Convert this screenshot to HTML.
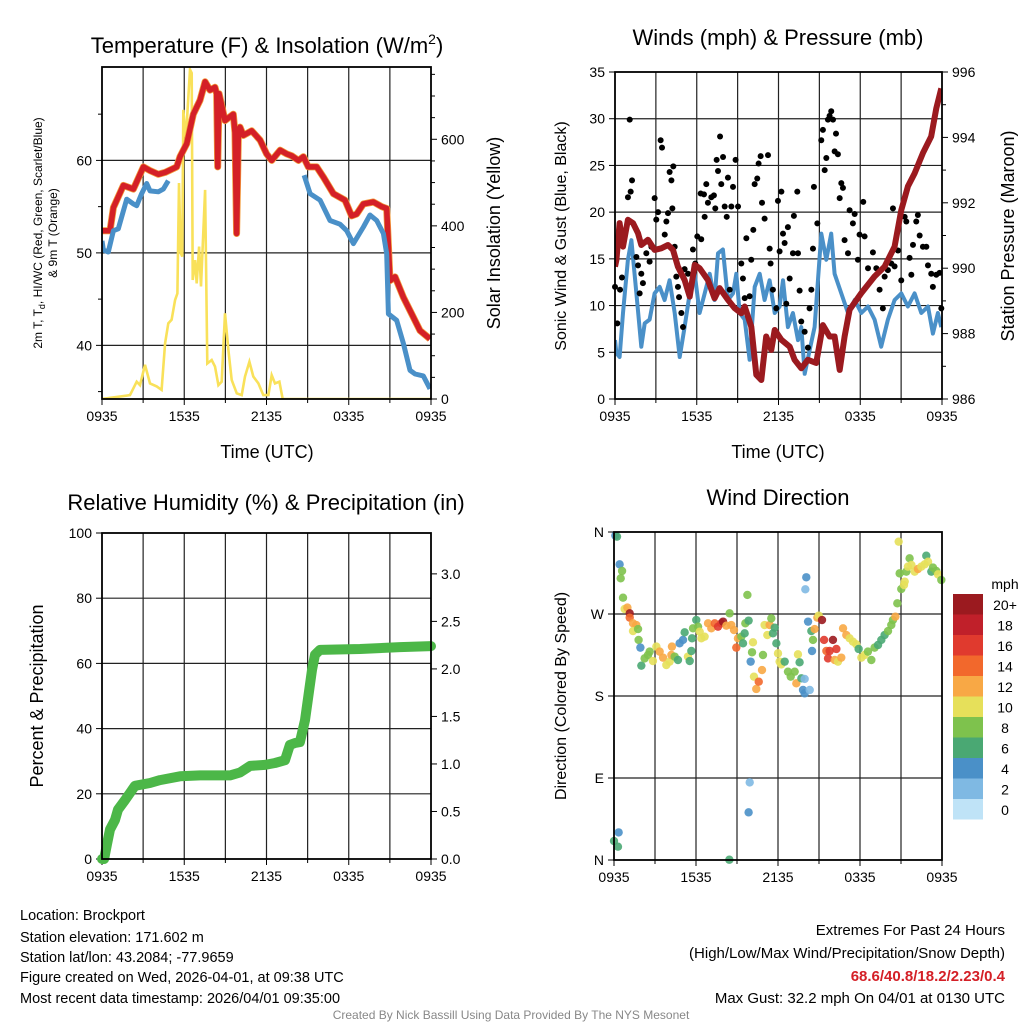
<!DOCTYPE html>
<html><head><meta charset="utf-8"><style>
html,body{margin:0;padding:0;background:#fff;}
svg{display:block;font-family:"Liberation Sans",Arial,sans-serif;}
</style></head><body>
<svg id="chart" width="1024" height="1024" viewBox="0 0 1024 1024" xmlns="http://www.w3.org/2000/svg">
<rect width="1024" height="1024" fill="#fff"/>
<g id="p1"></g>
<g id="p2"></g>
<g id="p3"></g>
<g id="p4"></g>
<g font-size="14.5" fill="#000">
<text x="20" y="920">Location: Brockport</text>
<text x="20" y="942">Station elevation: 171.602 m</text>
<text x="20" y="962">Station lat/lon: 43.2084; -77.9659</text>
<text x="20" y="982">Figure created on Wed, 2026-04-01, at 09:38 UTC</text>
<text x="20" y="1003">Most recent data timestamp: 2026/04/01 09:35:00</text>
</g>
<g font-size="15" text-anchor="end">
<text x="1005" y="935">Extremes For Past 24 Hours</text>
<text x="1005" y="958">(High/Low/Max Wind/Precipitation/Snow Depth)</text>
<text x="1005" y="981" fill="#d42027" font-weight="bold">68.6/40.8/18.2/2.23/0.4</text>
<text x="1005" y="1003">Max Gust: 32.2 mph On 04/01 at 0130 UTC</text>
</g>
<text x="511" y="1019" font-size="12" fill="#888" text-anchor="middle">Created By Nick Bassill Using Data Provided By The NYS Mesonet</text>
</svg>
<script>
// ---- Data ----
const tempHours=[0,0.58,0.83,1.56,2.29,3.02,3.5,4.11,4.6,5.45,5.69,6.18,6.66,7.15,7.52,7.88,8.24,8.37,8.44,8.54,8.97,9.58,9.7,9.82,9.95,10.07,10.31,10.92,11.53,12.01,12.38,12.99,13.47,13.84,14.33,14.69,15.05,15.66,16.15,16.88,17.73,18.21,18.58,19.07,19.8,20.4,20.77,21.01,21.38,21.99,22.59,23.2,23.93];
const tempValues=[52.4,52.4,54.9,57.3,56.9,59.3,58.9,58.5,58.7,59.3,60.4,61.8,65.0,66.5,68.5,67.6,67.9,67.2,59.3,67.2,64.3,65.0,63,52.1,63,63.6,62.7,63.2,62.2,60.7,60.0,61.1,60.7,60.5,60.0,60.4,59.3,59.3,58.2,56.4,55.7,54.0,54.2,55.3,55.5,55.0,54.8,47.0,47.4,45.2,43.4,41.6,40.7];
const wcHours=[0,0.1,0.46,0.83,1.19,1.8,2.29,2.53,2.89,3.26,3.5,4.11,4.47,4.84,9,14.74,15.18,15.91,16.63,17.36,17.85,18.34,19.07,19.55,20.04,20.53,20.77,20.89,21.5,21.99,22.47,22.84,23.44,23.93];
const wcValues=[51.3,50.3,50.1,52.4,52.6,55.8,55.3,55.1,56.4,57.5,56.7,56.6,56.9,57.8,null,58.4,56.4,55.7,53.5,53.1,52.4,51.0,52.8,54.1,53.5,52.1,49.9,43.4,42.7,40.2,37.3,36.9,36.7,35.3];
const solarHours=[0,2.04,2.53,2.77,3.14,3.5,3.99,4.35,4.6,4.84,5.08,5.33,5.5,5.62,5.74,5.86,5.93,6.13,6.23,6.42,6.54,6.62,6.79,6.91,7.08,7.22,7.52,7.68,8.0,8.24,8.49,8.73,8.97,9.22,9.46,9.83,10.19,10.43,10.75,11.04,11.41,11.77,12.14,12.38,12.62,12.94,13.18,24];
const solarValues=[0,9,40,32,79,36,29,21,129,175,183,229,244,499,337,329,668,599,661,761,753,275,321,267,352,260,483,82,90,75,32,40,198,113,44,13,9,52,86,52,36,9,9,55,36,40,0,0];
const pressHours=[0,0.1,0.34,0.59,0.95,1.32,1.69,1.93,2.42,2.91,3.4,3.89,4.26,4.62,5.11,5.48,5.85,6.21,6.82,7.31,7.68,8.29,8.78,9.27,9.52,10.0,10.37,10.74,11.1,11.47,11.72,12.21,12.82,13.18,13.67,14.16,14.77,15.26,15.75,16.12,16.49,16.85,17.22,18.08,19.05,19.79,20.52,21.01,21.5,21.99,22.6,23.21,23.58,23.95];
const pressValues=[990.05,990.25,991.38,990.66,991.48,991.38,991.07,990.71,990.87,990.56,990.61,990.71,990.56,990.05,989.64,989.13,990.1,990.0,989.64,989.08,989.39,989.03,988.78,988.62,988.83,988.21,986.74,986.58,987.91,987.5,988.11,987.81,987.6,987.2,986.94,987.2,987.1,988.26,987.91,987.91,986.89,987.91,988.73,989.24,989.75,990.05,990.66,991.78,992.5,992.9,993.52,994.03,994.89,995.5];
const windHours=[0,0.1,0.34,0.59,0.95,1.2,1.57,1.93,2.18,2.54,2.91,3.28,3.64,4.01,4.38,4.75,5.11,5.48,5.85,6.21,6.58,6.95,7.31,7.56,7.92,8.29,8.66,8.9,9.15,9.52,9.88,10.25,10.62,10.98,11.35,11.72,12.08,12.33,12.69,13.06,13.43,13.67,13.92,14.28,14.65,15.14,15.51,15.87,16.12,16.61,17.1,17.59,18.08,18.57,19.05,19.54,20.03,20.52,21.01,21.5,21.99,22.48,22.97,23.33,23.7,23.95];
const windValues=[6.3,4.9,4.5,9.2,14.9,17.0,11.3,5.6,8.1,8.5,11.3,12.0,10.6,12.7,9.2,4.5,7.7,11.3,13.4,9.2,11.3,13.4,10.6,15.6,16.0,10.6,11.3,13.4,9.2,8.5,4.2,12.0,13.4,10.6,12.7,9.2,9.9,12.7,7.7,9.2,6.3,7.7,2.7,5.2,7.7,17.7,14.9,17.7,13.4,11.3,9.2,10.6,9.2,9.9,8.5,5.6,8.5,10.6,11.3,9.9,11.3,9.2,9.9,7.0,9.2,7.7];
const gustHours=[0.0,0.17,0.37,0.51,0.95,1.15,1.25,1.08,1.57,1.69,1.81,1.93,2.05,2.3,2.54,2.67,2.91,3.03,3.16,3.35,3.45,3.65,3.77,3.89,4.01,4.14,4.21,4.28,4.38,4.5,4.62,4.7,4.87,4.99,5.11,5.36,5.72,5.89,6.04,6.33,6.58,6.29,6.53,6.7,6.82,7.07,7.26,7.36,7.46,7.56,7.71,7.8,7.93,8.05,8.2,8.29,8.42,8.54,8.66,8.85,9.03,9.27,9.39,9.52,9.64,9.88,10.0,10.15,10.25,10.44,10.54,10.69,10.79,10.98,11.23,11.35,11.42,11.59,11.84,11.96,12.08,12.21,12.33,12.45,12.57,12.69,12.82,13.06,13.13,13.38,13.43,13.55,13.67,13.92,14.16,14.28,14.41,14.53,14.6,14.85,15.14,15.26,15.39,15.51,15.63,15.75,15.87,16.0,16.12,16.22,16.36,16.49,16.61,16.73,16.85,17.1,17.22,17.46,17.59,17.83,17.95,18.22,18.32,18.57,18.93,19.18,19.42,19.66,19.79,20.03,20.28,20.4,20.52,20.77,21.01,21.26,21.38,21.62,21.75,21.87,22.11,22.23,22.36,22.6,22.85,22.97,23.21,23.33,23.58,23.82,23.95];
const gustValues=[12.0,8.1,11.7,13.0,21.6,22.2,23.4,29.9,15.2,14.3,11.3,13.4,12.4,15.6,14.7,16.3,21.5,19.2,20.0,27.7,26.9,17.6,19.0,19.9,24.3,23.4,20.4,24.9,16.3,13.1,12.0,10.9,9.2,7.7,13.9,13.4,16.0,14.5,17.4,17.1,19.5,22.0,21.9,23.0,21.0,21.6,21.8,20.4,25.6,24.4,28.1,23.0,25.9,20.6,19.5,23.7,11.7,20.6,22.7,25.6,20.6,14.5,12.9,10.8,17.2,11.0,14.9,18.1,23.0,23.6,25.2,26.0,21.0,19.3,26.1,16.1,14.5,11.7,9.7,21.2,15.8,22.2,17.7,16.7,10.2,18.4,12.9,15.6,19.6,22.2,15.6,11.6,8.3,7.2,5.5,9.7,11.7,16.1,22.7,18.8,27.7,28.8,24.5,25.8,29.9,30.3,30.8,29.9,26.5,28.4,26.2,21.5,23.1,22.6,17.0,15.6,20.2,18.8,19.8,14.9,17.6,21.1,17.4,14.0,15.7,14.0,11.7,9.7,13.1,13.8,14.5,20.4,14.2,15.9,12.7,19.5,19.0,15.1,13.3,16.5,19.0,19.7,17.5,16.3,16.3,14.3,13.4,12.0,13.3,13.5,9.7];
const precipHours=[0,0.15,0.36,0.58,0.95,1.17,1.68,2.41,3.5,4.23,5.69,7.15,9.34,10.07,10.8,11.89,12.62,13.35,13.71,14.08,14.44,14.81,15.32,15.54,15.9,18.82,21.74,24];
const precipValues=[0,0,0.15,0.31,0.41,0.52,0.62,0.77,0.8,0.83,0.87,0.88,0.88,0.91,0.98,0.99,1.01,1.04,1.2,1.22,1.23,1.46,1.99,2.15,2.2,2.21,2.23,2.24];
const dirHours=[0.10,0.22,0.41,0.59,0.49,0.66,0.78,0.98,1.15,1.15,1.39,1.63,1.39,1.76,1.8,1.93,2.0,2.24,2.49,2.61,2.85,3.1,3.34,3.59,3.83,4.07,4.2,4.24,4.44,4.68,4.8,5.05,5.17,5.41,5.54,5.66,5.71,5.78,6.02,6.15,6.27,6.39,6.63,6.88,7.12,7.37,7.61,7.85,7.98,8.22,8.46,8.58,8.78,8.95,9.07,9.32,9.44,9.56,9.61,9.76,9.85,10.1,10.17,10.0,10.24,10.41,10.59,10.83,10.9,11.02,11.22,11.39,11.51,11.63,11.76,11.88,12.0,12.12,12.24,12.49,12.73,12.93,13.22,13.34,13.46,13.58,13.71,13.83,13.95,13.95,14.07,14.0,14.2,14.32,14.44,14.49,14.56,14.68,14.88,14.98,15.22,15.37,15.54,15.66,15.78,16.02,16.27,16.15,16.39,16.63,16.76,17.0,17.24,17.49,17.73,17.9,18.1,18.34,18.58,18.83,19.07,19.32,19.56,19.8,20.05,20.29,20.41,20.59,20.73,20.83,20.9,21.02,21.22,21.27,21.39,21.51,21.63,21.76,22.0,22.24,22.49,22.73,22.85,22.98,23.22,23.34,23.58,23.71,23.95,9.93,9.85,0.34,0.0,0.29,8.44];
const dirValues=[356.0,354.9,324.5,317.2,309.2,287.9,275.5,277.0,270.7,266.0,259.8,257.9,251.3,253.5,241.5,233.1,213.3,221.3,225.0,228.7,218.4,234.2,228.7,222.1,214.0,217.7,225.0,234.2,223.2,219.5,237.8,241.5,249.9,223.2,218.4,229.4,243.3,254.3,263.4,256.1,250.6,243.3,245.1,259.8,254.3,259.8,256.1,259.8,261.6,257.2,270.7,257.9,252.4,233.1,243.3,245.1,237.8,248.8,259.8,290.9,262.7,228.0,238.9,217.7,201.2,187.7,195.7,208.5,225.0,257.9,246.9,257.9,265.2,248.8,255.0,237.8,226.8,217.7,214.7,217.7,206.7,201.2,206.7,193.9,225.7,217.0,199.4,186.6,182.9,198.7,310.3,297.1,261.6,186.6,251.3,229.4,241.5,253.5,266.0,268.2,263.4,241.5,229.4,221.3,229.4,241.5,231.6,219.5,217.7,222.1,254.3,246.9,243.3,239.6,236.7,231.6,222.1,225.0,228.7,219.5,233.1,236.0,241.5,246.9,251.3,257.9,263.4,267.1,281.7,349.4,314.6,297.4,301.8,305.5,316.5,322.0,331.1,323.8,316.5,319.4,322.0,324.5,334.0,327.4,316.5,320.9,317.2,313.5,307.3,85.2,52.3,30.3,20.8,14.6,0.3];
const dirSpeeds=[4,6,4,8,8,8,10,12,20,15,12,12,10,8,8,4,6,8,8,8,10,10,12,12,10,10,12,12,8,6,4,4,6,10,6,6,6,8,6,8,10,10,10,12,12,15,17,17,20,12,8,12,12,15,12,8,6,6,8,8,6,8,10,4,10,12,15,12,8,10,10,12,8,6,6,6,10,10,10,6,8,8,8,12,10,6,6,4,4,2,4,2,4,2,6,4,8,12,12,10,20,17,15,17,17,20,17,12,10,12,12,12,10,10,10,6,10,10,8,8,8,6,6,6,8,8,8,12,8,10,8,8,10,10,8,10,8,10,10,12,10,10,6,10,6,8,8,10,8,2,4,4,6,6,6];
const timeTickLabels=["0935","1535","2135","0335","0935"];
const tempTicks=[40,50,60];
const solarTicks=[0,200,400,600];
const windTicks=[0,5,10,15,20,25,30,35];
const pressTicks=[986,988,990,992,994,996];
const rhTicks=[0,20,40,60,80,100];
const precipTicks=[0.0,0.5,1.0,1.5,2.0,2.5,3.0];
const dirTicks=[0,90,180,270,360];
const dirTickLabels=["N","E","S","W","N"];
const speedBins=["20+","18","16","14","12","10","8","6","4","2","0"];
const speedColors=["#9b1a1f","#c0202a","#e03a2e","#f2682c","#f8a845","#e6e05a","#7ec24d","#4aa873","#4a90c8","#7fb9e3","#bfe3f7"];

// ---- helpers ----
const NS="http://www.w3.org/2000/svg";
function mk(parent,tag,attrs){const e=document.createElementNS(NS,tag);for(const k in attrs)e.setAttribute(k,attrs[k]);parent.appendChild(e);return e;}
function lin(d0,d1,r0,r1){return v=>r0+(v-d0)/(d1-d0)*(r1-r0);}
function pathD(xs,ys,fx,fy){let d="",pen=false;for(let i=0;i<xs.length;i++){if(ys[i]===null){pen=false;continue;}d+=(pen?"L":"M")+fx(xs[i]).toFixed(1)+","+fy(ys[i]).toFixed(1);pen=true;}return d;}
function speedColor(s){const idx=Math.max(0,Math.min(10,10-Math.floor(s/2)));return speedColors[idx];}

function frame(g,P,gridY,fy,leftTicks,leftLabels,minorLeft){
  const clip=mk(g,"clipPath",{id:"c"+g.id});
  mk(clip,"rect",{x:P.x0,y:P.y0,width:P.x1-P.x0,height:P.y1-P.y0});
  const fx=lin(0,24,P.x0,P.x1);
  const grid=mk(g,"g",{stroke:"#222","stroke-width":"1.2"});
  
  
  for(let h=3;h<24;h+=3){mk(grid,"line",{x1:fx(h),x2:fx(h),y1:P.y0,y2:P.y1});}
  gridY.forEach(v=>{mk(grid,"line",{x1:P.x0,x2:P.x1,y1:fy(v),y2:fy(v)});});
  // x ticks
  const xt=mk(g,"g",{"font-size":"14","text-anchor":"middle"});
  
  
  timeTickLabels.forEach((l,i)=>{const x=fx(i*6);mk(xt,"line",{x1:x,x2:x,y1:P.y1,y2:P.y1+6,stroke:"#000"});const t=mk(xt,"text",{x:x,y:P.y1+22});t.textContent=l;});
  for(let h=3;h<24;h+=6){mk(xt,"line",{x1:fx(h),x2:fx(h),y1:P.y1,y2:P.y1+4,stroke:"#000"});}
  const lt=mk(g,"g",{"font-size":"14","text-anchor":"end"});
  
  
  leftTicks.forEach((v,i)=>{const y=fy(v);mk(lt,"line",{x1:P.x0-6,x2:P.x0,y1:y,y2:y,stroke:"#000"});const t=mk(lt,"text",{x:P.x0-10,y:y+5});t.textContent=leftLabels[i];});
  (minorLeft||[]).forEach(v=>{const y=fy(v);mk(lt,"line",{x1:P.x0-4,x2:P.x0,y1:y,y2:y,stroke:"#000"});});
  return {fx,clip:"url(#c"+g.id+")"};
}
function rightAxis(g,P,ticks,labels,fr,minor){
  const rt=mk(g,"g",{"font-size":"14","text-anchor":"start"});
  
  
  ticks.forEach((v,i)=>{const y=fr(v);mk(rt,"line",{x1:P.x1,x2:P.x1+6,y1:y,y2:y,stroke:"#000"});const t=mk(rt,"text",{x:P.x1+10,y:y+5});t.textContent=labels[i];});
  (minor||[]).forEach(v=>{const y=fr(v);mk(rt,"line",{x1:P.x1,x2:P.x1+4,y1:y,y2:y,stroke:"#000"});});
}
function border(g,P){const b=mk(g,"rect",{x:P.x0,y:P.y0,width:P.x1-P.x0,height:P.y1-P.y0,fill:"none",stroke:"#000","stroke-width":"1.8"});}
function label(g,x,y,txt,size,rot,name){const t=mk(g,"text",{x:x,y:y,"font-size":size,"text-anchor":"middle"});if(rot)t.setAttribute("transform","rotate(-90 "+x+" "+y+")");t.textContent=txt;return t;}

// ---- Panel 1 ----
(function(){
  const g=document.getElementById("p1");
  const P={x0:102,x1:431,y0:67,y1:399};
  const fy=lin(34.2,70.1,P.y1,P.y0), fr=lin(0,767,P.y1,P.y0);
  const {fx,clip}=frame(g,P,tempTicks,fy,tempTicks,tempTicks.map(String),[35,45,55,65]);
  rightAxis(g,P,solarTicks,solarTicks.map(String),fr,[50,100,150,250,300,350,450,500,550,650,700,750]);
  const s=mk(g,"path",{d:pathD(solarHours,solarValues,fx,fr),fill:"none",stroke:"#f9e15a","stroke-width":"2.6","clip-path":clip});
  
  
  const o=mk(g,"path",{d:pathD(tempHours,tempValues,fx,fy),fill:"none",stroke:"#f39c3c","stroke-width":"7","stroke-linejoin":"round","clip-path":clip});
  
  
  const r=mk(g,"path",{d:pathD(tempHours,tempValues,fx,fy),fill:"none",stroke:"#d42027","stroke-width":"5.5","stroke-linejoin":"round","clip-path":clip});
  
  
  const b=mk(g,"path",{d:pathD(wcHours,wcValues,fx,fy),fill:"none",stroke:"#4a90c8","stroke-width":"5","stroke-linejoin":"round","clip-path":clip});
  
  
  border(g,P);
  const tt=mk(g,"text",{x:267,y:53,"font-size":"22","text-anchor":"middle"});
  tt.innerHTML='Temperature (F) &amp; Insolation (W/m<tspan font-size="14" dy="-9">2</tspan><tspan dy="9">)</tspan>';
  
  
  label(g,267,458,"Time (UTC)",18,false,"x-axis-title");
  const yl=mk(g,"text",{x:42,y:233,"font-size":"12","text-anchor":"middle",transform:"rotate(-90 42 233)"});
  yl.innerHTML='2m T, T<tspan font-size="9" dy="3">d</tspan><tspan dy="-3">, HI/WC (Red, Green, Scarlet/Blue)</tspan>';
  
  
  label(g,57,233,"& 9m T (Orange)",12,true,"temperature-y-axis-subtitle");
  label(g,500,233,"Solar Insolation (Yellow)",18,true,"solar-y-axis-title");
})();

// ---- Panel 2 ----
(function(){
  const g=document.getElementById("p2");
  const P={x0:615,x1:942,y0:72,y1:399};
  const fy=lin(0,35,P.y1,P.y0), fr=lin(986,996,P.y1,P.y0);
  const {fx,clip}=frame(g,P,[5,10,15,20,25,30],fy,windTicks,windTicks.map(String),[]);
  rightAxis(g,P,pressTicks,pressTicks.map(String),fr,[987,989,991,993,995,985.5+0.5]);
  const w=mk(g,"path",{d:pathD(windHours,windValues,fx,fy),fill:"none",stroke:"#4a90c8","stroke-width":"4","stroke-linejoin":"round","clip-path":clip});
  
  
  const dots=mk(g,"g",{fill:"#000"});
  
  
  gustHours.forEach((h,i)=>{const c=mk(dots,"circle",{cx:fx(h),cy:fy(gustValues[i]),r:3});});
  const p=mk(g,"path",{d:pathD(pressHours,pressValues,fx,fr),fill:"none",stroke:"#9b1a1f","stroke-width":"6","stroke-linejoin":"round","clip-path":clip});
  
  
  border(g,P);
  label(g,778,45,"Winds (mph) & Pressure (mb)",22,false,"winds-title");
  label(g,778,458,"Time (UTC)",18,false,"x-axis-title");
  label(g,566,236,"Sonic Wind & Gust (Blue, Black)",16,true,"wind-y-axis-title");
  label(g,1014,236,"Station Pressure (Maroon)",18,true,"pressure-y-axis-title");
})();

// ---- Panel 3 ----
(function(){
  const g=document.getElementById("p3");
  const P={x0:102,x1:431,y0:533,y1:859};
  const fy=lin(0,100,P.y1,P.y0), fr=lin(0,3.43,P.y1,P.y0);
  const {fx,clip}=frame(g,P,[20,40,60,80],fy,rhTicks,rhTicks.map(String),[]);
  rightAxis(g,P,precipTicks,precipTicks.map(v=>v.toFixed(1)),fr,[]);
  const pr=mk(g,"path",{d:pathD(precipHours,precipValues,fx,fr),fill:"none",stroke:"#4cb748","stroke-width":"10","stroke-linejoin":"round","stroke-linecap":"round"});
  
  
  border(g,P);
  label(g,266,510,"Relative Humidity (%) & Precipitation (in)",22,false,"humidity-title");
  label(g,43,696,"Percent & Precipitation",18,true,"humidity-y-axis-title");
})();

// ---- Panel 4 ----
(function(){
  const g=document.getElementById("p4");
  const P={x0:614,x1:942,y0:532,y1:860};
  const fy=lin(0,360,P.y1,P.y0);
  const {fx,clip}=frame(g,P,[90,180,270],fy,dirTicks,dirTickLabels,[]);
  const dots=mk(g,"g",{});
  
  
  dirHours.forEach((h,i)=>{const c=mk(dots,"circle",{cx:fx(h),cy:fy(dirValues[i]),r:4.2,fill:speedColor(dirSpeeds[i]),"fill-opacity":"0.9"});});
  border(g,P);
  label(g,778,505,"Wind Direction",22,false,"wind-direction-title");
  label(g,566,696,"Direction (Colored By Speed)",16,true,"direction-y-axis-title");
  const cb=mk(g,"g",{});
  
  
  const u=mk(cb,"text",{x:1005,y:589,"font-size":"14","text-anchor":"middle"});u.textContent="mph";
  
  
  speedBins.forEach((l,i)=>{
    const r=mk(cb,"rect",{x:953,y:594+i*20.5,width:30,height:20.5,fill:speedColors[i]});
    
    
    const t=mk(cb,"text",{x:1005,y:610+i*20.5,"font-size":"14","text-anchor":"middle"});t.textContent=l;
    
    
  });
})();
</script>
</body></html>
